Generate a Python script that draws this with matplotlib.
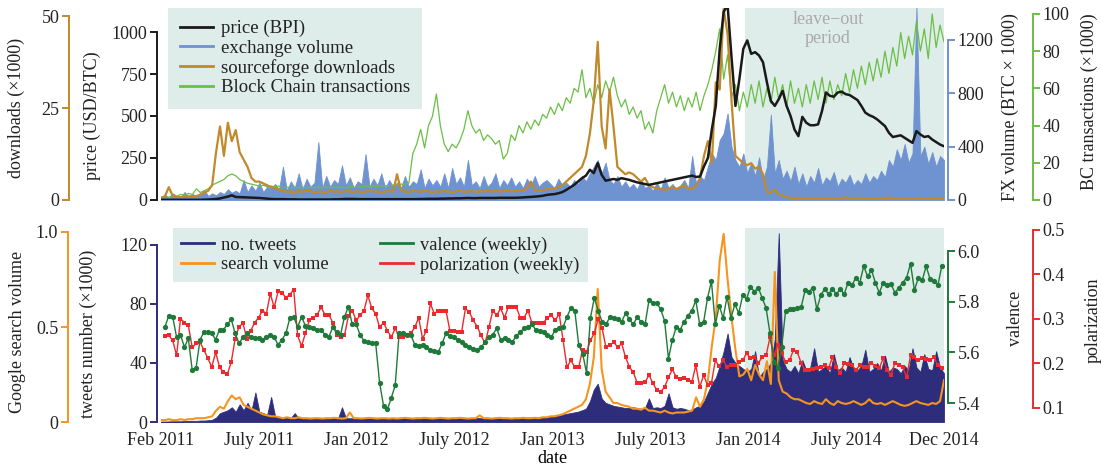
import matplotlib
matplotlib.use('Agg')
import matplotlib.pyplot as plt
import matplotlib.dates as mdates
from matplotlib.lines import Line2D
import numpy as np
import pandas as pd

# ---- data (~weekly resolution) ----
price = [1, 1, 1, 1, 1, 1, 1, 1, 1, 1,
         1, 2, 3, 4, 6, 9, 15, 20, 28, 18,
         17, 16, 15, 14, 13, 12, 10, 8, 6, 5,
         5, 5, 4, 4, 4, 3, 3, 3, 3, 3,
         3, 3, 3, 3, 4, 4, 5, 6, 6, 6,
         5, 5, 5, 5, 5, 5, 5, 5, 5, 5,
         5, 5, 5, 5, 5, 5, 6, 6, 7, 7,
         7, 8, 8, 9, 9, 10, 10, 11, 12, 11,
         11, 12, 12, 12, 12, 12, 13, 13, 13, 13,
         13, 14, 15, 17, 18, 20, 22, 25, 30, 33,
         35, 40, 47, 60, 75, 90, 110, 130, 145, 180,
         160, 220, 150, 115, 120, 125, 120, 130, 125, 120,
         112, 105, 100, 95, 90, 95, 100, 105, 110, 115,
         120, 125, 130, 135, 140, 145, 137, 140, 200, 250,
         420, 560, 900, 1120, 1160, 850, 560, 720, 900, 950,
         870, 880, 860, 820, 700, 590, 560, 600, 650, 560,
         500, 420, 380, 495, 460, 445, 445, 450, 530, 640,
         620, 615, 640, 645, 630, 625, 610, 595, 560, 520,
         505, 495, 480, 460, 440, 400, 375, 380, 385, 370,
         355, 340, 410, 390, 375, 380, 360, 345, 330, 320]

downloads = [0.5, 1, 3.5, 1, 0.8, 0.8, 0.8, 1, 1, 1,
             1.5, 2, 2.5, 4, 13, 20, 12, 21, 16, 19,
             13, 11, 9, 6, 5, 5, 4.5, 4, 3.5, 3.2,
             2.8, 2.5, 2.2, 2.3, 2.0, 2.5, 2.2, 2.6, 2.4, 2.0,
             2.3, 2.2, 2.0, 2.6, 2.2, 2.4, 2.1, 2.5, 2.3, 2.2,
             2.4, 2.1, 2.3, 2.6, 2.2, 2.4, 2.0, 2.3, 2.5, 2.2,
             7, 2.6, 2.3, 2.2, 2.5, 2.4, 2.2, 2.6, 2.3, 2.1,
             2.4, 2.2, 2.5, 2.3, 2.1, 2.4, 2.6, 2.2, 2.3, 2.5,
             2.2, 2.4, 2.3, 2.6, 2.2, 2.5, 2.3, 2.4, 2.6, 2.3,
             2.5, 2.4, 2.7, 3.0, 5, 2.8, 2.5, 2.5, 3, 3,
             3, 3.5, 4, 5, 6, 7, 8, 9, 12, 18,
             27, 43, 20, 14, 30, 20, 9, 8, 7, 7.5,
             7, 6, 5, 6, 4, 3.5, 3, 3, 2.8, 3,
             3.5, 3, 3.5, 4, 3, 3, 4, 6, 12, 16,
             10, 32, 30, 52, 45, 27, 12, 11, 10, 9.5,
             10, 8.5, 9, 7, 2.2, 2, 2.8, 1.5, 1.2, 0.8,
             0.6, 0.5, 0.5, 0.4, 0.4, 0.5, 0.4, 0.4, 0.4, 0.5,
             0.4, 0.4, 0.4, 0.4, 0.8, 0.4, 0.4, 0.4, 0.4, 0.4,
             0.4, 0.3, 0.4, 0.4, 0.4, 0.7, 0.4, 0.4, 0.3, 0.3,
             0.3, 0.3, 0.3, 0.4, 0.3, 0.3, 0.3, 0.3, 0.3, 0.3]

fx_volume = [20, 40, 15, 50, 30, 25, 60, 20, 45, 30,
             40, 75, 30, 50, 35, 60, 45, 80, 55, 70,
             50, 150, 60, 110, 70, 130, 60, 100, 90, 120,
             80, 250, 70, 140, 90, 200, 80, 160, 100, 130,
             435, 90, 180, 100, 150, 120, 260, 110, 170, 90,
             140, 120, 345, 100, 160, 110, 200, 90, 150, 100,
             130, 90, 180, 100, 140, 120, 230, 90, 160, 110,
             150, 100, 200, 90, 240, 120, 170, 100, 300, 110,
             140, 90, 180, 100, 130, 200, 90, 150, 110, 170,
             100, 140, 90, 160, 110, 180, 100, 130, 150, 120,
             90, 160, 110, 130, 100, 150, 120, 180, 140, 200,
             250, 300, 200, 280, 150, 120, 180, 100, 140, 90,
             120, 80, 150, 90, 110, 70, 130, 80, 170, 90,
             120, 80, 110, 150, 90, 330, 120, 180, 150, 250,
             350, 300, 450, 500, 650, 400, 300, 250, 350, 200,
             280, 180, 320, 150, 250, 640, 200, 300, 160, 220,
             140, 250, 120, 200, 100, 180, 130, 240, 110, 170,
             140, 210, 100, 160, 130, 190, 110, 150, 120, 200,
             130, 180, 150, 220, 170, 300, 250, 380, 300, 420,
             280, 350, 1450, 330, 400, 270, 360, 250, 330, 300]

bc_transactions = [1.5, 2, 1.5, 2.5, 2, 3, 2.5, 3.5, 3, 6,
                   4, 5, 6, 8, 9, 10, 11, 13, 14, 13,
                   11, 10, 9, 8.5, 8, 7.5, 8, 7, 7.5, 7,
                   7.5, 6.5, 7, 6.5, 7, 6.5, 7, 6.5, 6.8, 6.5,
                   7, 6.5, 7, 6.5, 7, 6.8, 7, 6.5, 7.2, 6.8,
                   7, 7, 7.5, 7, 7.5, 7.2, 7.5, 7.8, 7.5, 8,
                   8, 8.5, 8.5, 9, 25, 30, 38, 28, 40, 45,
                   57, 40, 30, 26, 30, 28, 32, 38, 48, 40,
                   36, 38, 32, 35, 33, 30, 32, 22, 25, 35,
                   32, 40, 36, 42, 38, 43, 40, 46, 44, 50,
                   46, 52, 48, 55, 52, 60, 58, 70, 55, 60,
                   52, 62, 55, 64, 58, 66, 56, 50, 54, 46,
                   50, 44, 48, 38, 42, 36, 48, 55, 62, 52,
                   58, 50, 56, 48, 55, 50, 58, 48, 56, 62,
                   70, 80, 92, 65, 78, 55, 62, 48, 58, 50,
                   62, 52, 64, 50, 60, 52, 66, 54, 62, 50,
                   64, 52, 60, 50, 62, 52, 64, 54, 66, 52,
                   64, 54, 62, 56, 68, 58, 70, 60, 72, 62,
                   74, 64, 76, 66, 80, 68, 82, 72, 90, 76,
                   88, 78, 96, 80, 92, 76, 100, 82, 94, 85]

tweets = [0.3, 0.3, 0.4, 0.5, 0.5, 0.5, 0.6, 0.7, 0.8, 0.8,
          1, 1, 1.2, 1.5, 3, 6, 7, 8, 10, 7,
          12, 8, 13, 8, 20, 7, 6, 5, 17, 4,
          3.5, 3, 3, 2.8, 6, 2.5, 2.5, 2.6, 2.4, 2.5,
          2.5, 2.6, 2.5, 2.5, 3.5, 2.5, 10, 2.6, 2.5, 2.6,
          2.8, 2.5, 2.4, 2.6, 2.5, 2.7, 2.5, 2.4, 2.6, 2.5,
          2.7, 2.5, 2.8, 2.6, 2.5, 2.9, 2.6, 2.5, 2.7, 2.6,
          2.5, 2.8, 2.6, 2.7, 2.5, 2.6, 3.2, 2.7, 2.5, 2.6,
          2.8, 2.6, 2.5, 2.7, 2.6, 3.0, 2.7, 2.6, 2.8, 2.7,
          2.8, 2.7, 2.9, 2.8, 3.0, 2.8, 3, 3, 3.5, 3.5,
          4, 4.5, 5, 5.5, 6, 6.5, 7, 8, 9, 14,
          22, 26, 16, 13, 12, 11, 10.5, 10, 9.5, 9.5,
          10, 9.5, 9, 9.5, 16, 9.5, 10, 9.5, 11, 19.5,
          10, 9, 9.5, 9, 8, 8.5, 10, 11, 14, 20,
          26, 30, 38, 48, 60, 44, 40, 38, 36, 34,
          36, 48, 30, 34, 36, 40, 56, 128, 42, 36,
          34, 38, 33, 42, 35, 37, 50, 34, 36, 38,
          33, 46, 35, 37, 34, 44, 36, 35, 38, 49,
          34, 36, 40, 35, 45, 34, 37, 36, 33, 38,
          35, 50, 37, 34, 46, 36, 35, 48, 37, 33]

search_volume = [0.01, 0.01, 0.015, 0.01, 0.01, 0.015, 0.01, 0.015, 0.015, 0.02,
                 0.02, 0.02, 0.025, 0.03, 0.06, 0.08, 0.07, 0.11, 0.14, 0.12,
                 0.13, 0.09, 0.08, 0.07, 0.06, 0.05, 0.04, 0.035, 0.03, 0.03,
                 0.025, 0.02, 0.025, 0.02, 0.02, 0.025, 0.02, 0.02, 0.018, 0.02,
                 0.02, 0.018, 0.02, 0.02, 0.022, 0.02, 0.018, 0.02, 0.05, 0.02,
                 0.02, 0.018, 0.02, 0.022, 0.02, 0.018, 0.02, 0.02, 0.018, 0.02,
                 0.018, 0.02, 0.022, 0.02, 0.018, 0.02, 0.02, 0.022, 0.02, 0.018,
                 0.02, 0.022, 0.02, 0.018, 0.02, 0.02, 0.022, 0.02, 0.018, 0.02,
                 0.02, 0.035, 0.02, 0.02, 0.018, 0.02, 0.022, 0.02, 0.02, 0.018,
                 0.02, 0.02, 0.022, 0.02, 0.02, 0.022, 0.02, 0.025, 0.025, 0.03,
                 0.03, 0.035, 0.04, 0.05, 0.06, 0.07, 0.08, 0.09, 0.12, 0.2,
                 0.34, 0.70, 0.28, 0.16, 0.13, 0.10, 0.10, 0.09, 0.085, 0.08,
                 0.07, 0.07, 0.065, 0.075, 0.06, 0.06, 0.055, 0.05, 0.06, 0.05,
                 0.045, 0.05, 0.05, 0.05, 0.055, 0.06, 0.13, 0.08, 0.12, 0.22,
                 0.40, 0.55, 0.85, 0.99, 0.75, 0.55, 0.38, 0.24, 0.25, 0.28,
                 0.22, 0.30, 0.25, 0.22, 0.32, 0.20, 0.79, 0.22, 0.16, 0.15,
                 0.13, 0.12, 0.12, 0.11, 0.10, 0.095, 0.11, 0.10, 0.095, 0.12,
                 0.10, 0.09, 0.11, 0.10, 0.095, 0.10, 0.11, 0.10, 0.09, 0.10,
                 0.12, 0.10, 0.095, 0.10, 0.09, 0.10, 0.11, 0.10, 0.09, 0.085,
                 0.09, 0.10, 0.11, 0.10, 0.095, 0.09, 0.10, 0.095, 0.11, 0.22]

valence = [5.70, 5.745, 5.74, 5.66, 5.67, 5.62, 5.655, 5.53, 5.54, 5.65,
           5.68, 5.68, 5.675, 5.65, 5.69, 5.69, 5.71, 5.73, 5.675, 5.635,
           5.66, 5.675, 5.66, 5.655, 5.655, 5.65, 5.66, 5.67, 5.66, 5.63,
           5.65, 5.675, 5.735, 5.74, 5.70, 5.74, 5.705, 5.70, 5.695, 5.69,
           5.69, 5.67, 5.66, 5.70, 5.68, 5.67, 5.74, 5.78, 5.71, 5.71,
           5.67, 5.645, 5.64, 5.635, 5.635, 5.48, 5.39, 5.375, 5.42, 5.47,
           5.675, 5.675, 5.67, 5.67, 5.63, 5.625, 5.63, 5.62, 5.61, 5.605,
           5.60, 5.635, 5.675, 5.665, 5.66, 5.65, 5.64, 5.63, 5.62, 5.615,
           5.61, 5.62, 5.64, 5.66, 5.67, 5.695, 5.65, 5.655, 5.65, 5.64,
           5.665, 5.68, 5.695, 5.70, 5.71, 5.69, 5.685, 5.68, 5.67, 5.66,
           5.69, 5.695, 5.70, 5.74, 5.775, 5.765, 5.63, 5.595, 5.52, 5.735,
           5.815, 5.765, 5.72, 5.71, 5.74, 5.735, 5.73, 5.72, 5.755, 5.73,
           5.71, 5.74, 5.72, 5.71, 5.805, 5.795, 5.795, 5.77, 5.725, 5.575,
           5.65, 5.70, 5.69, 5.72, 5.745, 5.765, 5.805,
           5.71, 5.72, 5.815, 5.88, 5.71, 5.785, 5.735, 5.82, 5.735, 5.79,
           5.755, 5.825, 5.81, 5.86, 5.84, 5.855, 5.815, 5.775, 5.675, 5.56,
           5.54, 5.62, 5.765,
           5.77, 5.77, 5.775, 5.78, 5.845, 5.84, 5.855, 5.77, 5.825, 5.85,
           5.83, 5.85, 5.83, 5.85, 5.83, 5.875, 5.865, 5.895, 5.875,
           5.94, 5.90, 5.925, 5.875, 5.835, 5.875, 5.865, 5.87, 5.835, 5.855,
           5.875, 5.895, 5.95, 5.845, 5.895, 5.885, 5.94, 5.89, 5.88, 5.865, 5.94]

polarization = [0.261, 0.263, 0.252, 0.218, 0.301, 0.292, 0.286, 0.236, 0.245, 0.248,
                0.230, 0.212, 0.192, 0.225, 0.192, 0.180, 0.176, 0.203, 0.256, 0.283,
                0.290, 0.256, 0.274, 0.292, 0.303, 0.319, 0.312, 0.357, 0.326, 0.362,
                0.359, 0.348, 0.355, 0.366, 0.263, 0.239, 0.268, 0.297, 0.303, 0.310,
                0.326, 0.310, 0.310, 0.292, 0.263, 0.259, 0.263, 0.306, 0.319, 0.297,
                0.308, 0.319, 0.353, 0.324, 0.312, 0.281, 0.292, 0.274, 0.259, 0.279,
                0.259, 0.259, 0.263, 0.268, 0.281, 0.303, 0.256, 0.274, 0.335, 0.312,
                0.319, 0.319, 0.319, 0.274, 0.274, 0.270, 0.270, 0.324, 0.315, 0.297,
                0.283, 0.263, 0.245, 0.281, 0.319, 0.308, 0.324, 0.303, 0.328, 0.326,
                0.328, 0.303, 0.303, 0.319, 0.292, 0.292, 0.292, 0.292, 0.303, 0.308,
                0.297, 0.312, 0.252, 0.192, 0.207, 0.192, 0.192, 0.230, 0.225, 0.252,
                0.268, 0.301, 0.279, 0.236, 0.241, 0.248, 0.236, 0.245, 0.214, 0.192,
                0.180, 0.156, 0.156, 0.158, 0.174, 0.156, 0.140, 0.136, 0.147, 0.169,
                0.187, 0.169, 0.165, 0.167, 0.163, 0.158, 0.196, 0.147, 0.174, 0.151,
                0.156, 0.207, 0.194, 0.207, 0.192, 0.196, 0.196, 0.203, 0.207, 0.223,
                0.212, 0.214, 0.201, 0.214, 0.218, 0.259, 0.218, 0.241, 0.223, 0.203,
                0.207, 0.230, 0.225, 0.201, 0.185, 0.185, 0.187, 0.189, 0.192, 0.196,
                0.189, 0.214, 0.192, 0.178, 0.201, 0.198, 0.196, 0.185, 0.196, 0.192,
                0.192, 0.201, 0.194, 0.189, 0.212, 0.185, 0.174, 0.201, 0.196, 0.192,
                0.169, 0.218, 0.214, 0.207, 0.212, 0.210, 0.207, 0.214, 0.196, 0.189]

tick_labels = ['Feb 2011', 'July 2011', 'Jan 2012', 'July 2012', 'Jan 2013',
               'July 2013', 'Jan 2014', 'July 2014', 'Dec 2014']

start = pd.Timestamp('2011-02-01')
end = pd.Timestamp('2014-12-01')
leave_out_start = pd.Timestamp('2013-12-11')
daily_dates = pd.date_range(start, end, periods=len(price))
weekly_dates = pd.date_range('2011-02-08', '2014-11-27', periods=len(valence))

# ---- colours ----
C_PRICE = '#1a1a1a'
C_VOL = '#6f93d0'
C_DL = '#c0892b'
C_BC = '#6abf45'
C_TW = '#2e2d7c'
C_SV = '#f7941e'
C_VAL = '#1f7a3a'
C_POL = '#ec2a2e'
C_SHADE = '#deecea'
C_TEXT = '#222222'

plt.rcParams['font.family'] = 'serif'
plt.rcParams['font.serif'] = ['Liberation Serif', 'DejaVu Serif']
plt.rcParams['font.size'] = 13
plt.rcParams['text.color'] = C_TEXT


def setup_axis(ax, side, offset, color, lo, hi, ticks, labels, ylabel, label_xy):
    for s in ax.spines.values():
        s.set_visible(False)
    sp = ax.spines[side]
    sp.set_visible(True)
    sp.set_position(('outward', offset))
    sp.set_bounds(lo, hi)
    sp.set_color(color)
    sp.set_linewidth(1.4)
    ax.yaxis.set_ticks_position(side)
    ax.yaxis.set_label_position(side)
    ax.set_yticks(ticks)
    ax.set_yticklabels(labels)
    ax.tick_params(axis='y', colors=color, labelcolor=C_TEXT, length=5,
                   width=1.4, pad=2, labelsize=13)
    ax.tick_params(axis='x', bottom=False, labelbottom=False, top=False)
    ax.set_ylabel(ylabel, fontsize=13, color=C_TEXT)
    ax.yaxis.set_label_coords(*label_xy)
    ax.patch.set_visible(False)


fig = plt.figure(figsize=(11.01, 4.70), dpi=100)

# ---------------- top panel ----------------
ax_p = fig.add_axes([0.1462, 0.5745, 0.7112, 0.4085])
ax_dl = ax_p.twinx()
ax_fx = ax_p.twinx()
ax_bc = ax_p.twinx()
ax_fx.set_zorder(1)
ax_bc.set_zorder(2)
ax_dl.set_zorder(3)
ax_p.set_zorder(4)

ax_fx.axvspan(leave_out_start, end, color=C_SHADE, lw=0, zorder=0)
ax_fx.fill_between(daily_dates, fx_volume, color=C_VOL, lw=0.6, zorder=1)
ax_bc.plot(daily_dates, bc_transactions, color=C_BC, lw=0.9)
ax_dl.plot(daily_dates, downloads, color=C_DL, lw=1.6)
ax_p.plot(daily_dates, price, color=C_PRICE, lw=1.8)

ax_p.set_xlim(start, end)
ax_p.set_ylim(0, 1143)
ax_dl.set_ylim(0, 52.2)
ax_fx.set_ylim(0, 1440)
ax_bc.set_ylim(0, 103.2)

setup_axis(ax_p, 'left', 2.9, C_PRICE, 0, 1000, [0, 250, 500, 750, 1000],
           ['0', '250', '500', '750', '1000'], 'price (USD/BTC)', (-0.077, 0.44))
setup_axis(ax_dl, 'left', 66, C_DL, 0, 50, [0, 25, 50], ['0', '25', '50'],
           'downloads (×1000)', (-0.174, 0.48))
setup_axis(ax_fx, 'right', 2.9, C_VOL, 0, 1200, [0, 400, 800, 1200],
           ['0', '400', '800', '1200'], 'FX volume (BTC × 1000)', (1.074, 0.484))
setup_axis(ax_bc, 'right', 64, C_BC, 0, 100, [0, 20, 40, 60, 80, 100],
           ['0', '20', '40', '60', '80', '100'], 'BC transactions (×1000)', (1.174, 0.51))

ax_p.text(0.852, 0.985, 'leave\u2212out\nperiod', transform=ax_p.transAxes,
          ha='center', va='top', color='#aaaaaa', fontsize=13, linespacing=1.2)

top_handles = [Line2D([], [], color=C_PRICE, lw=2),
               Line2D([], [], color=C_VOL, lw=2),
               Line2D([], [], color=C_DL, lw=2),
               Line2D([], [], color=C_BC, lw=2)]
top_labels = ['price (BPI)', 'exchange volume', 'sourceforge downloads',
              'Block Chain transactions']
ax_p.legend(top_handles, top_labels, loc='upper left', bbox_to_anchor=(0.009, 1.0),
            frameon=True, facecolor=C_SHADE, edgecolor='none', framealpha=1,
            fancybox=False, handlelength=1.75, handletextpad=0.4, borderpad=0.65,
            labelspacing=0.12, borderaxespad=0, fontsize=13.5)

# ---------------- bottom panel ----------------
ax_tw = fig.add_axes([0.1462, 0.1021, 0.7112, 0.4128])
ax_sv = ax_tw.twinx()
ax_po = ax_tw.twinx()
ax_va = ax_tw.twinx()
ax_tw.set_zorder(1)
ax_sv.set_zorder(2)
ax_po.set_zorder(3)
ax_va.set_zorder(4)

ax_tw.axvspan(leave_out_start, end, color=C_SHADE, lw=0, zorder=0)
ax_tw.fill_between(daily_dates, tweets, color=C_TW, lw=0.6, zorder=1)
ax_sv.plot(daily_dates, search_volume, color=C_SV, lw=1.5)
ax_po.plot(weekly_dates, polarization, color=C_POL, lw=1.0, marker='s',
           markersize=3.5, markeredgewidth=0)
ax_va.plot(weekly_dates, valence, color=C_VAL, lw=1.0, marker='o',
           markersize=3.8, markeredgewidth=0)

ax_tw.set_xlim(start, end)
ax_tw.set_ylim(0, 131.5)
ax_sv.set_ylim(0, 1.021)
ax_va.set_ylim(5.325, 6.091)
ax_po.set_ylim(0.0685, 0.5045)

setup_axis(ax_tw, 'left', 2.9, C_TW, 0, 120, [0, 40, 80, 120],
           ['0', '40', '80', '120'], 'tweets number (×1000)', (-0.082, 0.454))
setup_axis(ax_sv, 'left', 67, C_SV, 0, 1.0, [0, 0.5, 1.0], ['0', '0.5', '1.0'],
           'Google search volume', (-0.172, 0.464))
setup_axis(ax_va, 'right', 2.9, C_VAL, 5.4, 6.0, [5.4, 5.6, 5.8, 6.0],
           ['5.4', '5.6', '5.8', '6.0'], 'valence', (1.0805, 0.536))
setup_axis(ax_po, 'right', 64, C_POL, 0.1, 0.5, [0.1, 0.2, 0.3, 0.4, 0.5],
           ['0.1', '0.2', '0.3', '0.4', '0.5'], 'polarization', (1.18, 0.526))

xt = np.linspace(mdates.date2num(start), mdates.date2num(end), len(tick_labels))
ax_tw.set_xticks(xt)
ax_tw.set_xticklabels(tick_labels)
ax_tw.tick_params(axis='x', bottom=True, labelbottom=True, length=0, pad=7,
                  labelsize=13, labelcolor=C_TEXT)
ax_tw.set_xlabel('date', fontsize=13, labelpad=1)

bot_handles = [Line2D([], [], color=C_TW, lw=2),
               Line2D([], [], color=C_SV, lw=2),
               Line2D([], [], color=C_VAL, lw=2),
               Line2D([], [], color=C_POL, lw=2)]
bot_labels = ['no. tweets', 'search volume', 'valence (weekly)', 'polarization (weekly)']
ax_va.legend(bot_handles, bot_labels, loc='upper left', ncol=2,
             bbox_to_anchor=(0.0153, 1.0), frameon=True, facecolor=C_SHADE,
             edgecolor='none', framealpha=1, fancybox=False, handlelength=1.75,
             handletextpad=0.4, borderpad=0.45, labelspacing=0.15, columnspacing=2.8,
             borderaxespad=0, fontsize=13.3)

fig.savefig('out.png', dpi=100)
